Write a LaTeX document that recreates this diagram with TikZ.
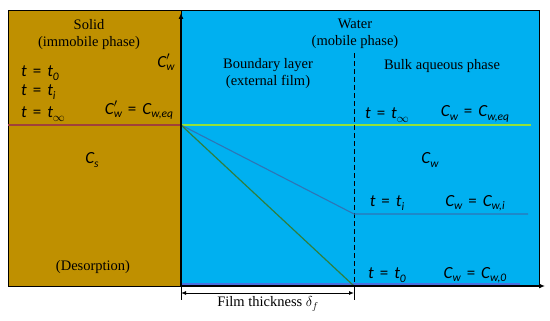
\documentclass[tikz,border=0pt]{standalone}
\usepackage{fontspec}
\setmainfont{Liberation Serif}
\newfontfamily\cfont{Carlito}
\usetikzlibrary{arrows.meta}
\definecolor{solidc}{HTML}{BF9000}
\definecolor{waterc}{HTML}{00B0F0}
\definecolor{eqsolid}{HTML}{A0403A}
\definecolor{eqwater}{HTML}{92E23A}
\definecolor{tiline}{HTML}{2E75B6}
\definecolor{t0line}{HTML}{2F7F3F}
\definecolor{bandc}{HTML}{4A6FE0}
\newcommand\mv[1]{{\cfont\itshape #1}}
\newcommand\sbx[1]{\raisebox{-0.45ex}{\fontsize{11.5}{12}\selectfont\cfont\itshape #1}}
\newcommand\eqs{\hspace{0.35em}{\cfont =}\hspace{0.35em}}
\newcommand\prm{\raisebox{0.1ex}{$^{\prime}$}}
\begin{document}
\begin{tikzpicture}[x=1pt,y=-1pt,
  font=\fontsize{14.5}{17}\selectfont,
  lbl/.style={inner sep=0pt, text=black},
  ml/.style={inner sep=0pt, text=black, font=\fontsize{17}{19}\selectfont},
  phase/.style={draw=black, line width=1.3pt, inner sep=0pt, anchor=north west},
  axis/.style={draw=black, line width=1.1pt, -{Latex[length=6pt,width=5pt]}}]
\useasboundingbox (0,0) rectangle (550,321);
\fill[white] (0,0) rectangle (550,321);
% phases
\node[phase, fill=solidc, minimum width=173pt, minimum height=276pt] (solid) at (8,10) {};
\node[phase, fill=waterc, minimum width=358pt, minimum height=276pt] (water) at (181,10) {};
% coordinates
\coordinate (O) at (181,286);
\coordinate (top) at (181,13);
\coordinate (xend) at (545,286);
\coordinate (P) at (181,125);
\coordinate (Le) at (8,125);
\coordinate (Ee) at (531,125);
\coordinate (Dtop) at (354,53);
\coordinate (Di) at (354,214);
\coordinate (Ie) at (528,214);
\coordinate (D0) at (354,286);
\coordinate (B0) at (181,284);
\coordinate (B1) at (520,284);
% equilibrium line
\draw[eqsolid, line width=1.3pt] (Le) -- (P);
\draw[eqwater, line width=1.3pt] (P) -- (Ee);
% t0 level band
\draw[bandc, line width=2.5pt] (B0) -- (B1);
% dashed boundary
\draw[black, line width=1pt, dash pattern=on 5pt off 3pt] (Dtop) -- (D0);
% profiles
\draw[tiline, line width=1.1pt] (P) -- (Di) -- (Ie);
\draw[t0line, line width=1.2pt] (P) -- (D0);
% axes
\draw[axis] (O) -- (top);
\draw[axis] (O) -- (xend);
% film thickness
\coordinate (f0) at (181,300);
\coordinate (f1) at (354,300);
\coordinate (a0) at (181,293);
\coordinate (a1) at (354,293);
\draw[black, line width=0.8pt] (O) -- (f0);
\draw[black, line width=0.8pt] (D0) -- (f1);
\draw[black, line width=0.9pt, {Latex[length=5pt,width=4pt]}-{Latex[length=5pt,width=4pt]}] (a0) -- (a1);
\node[lbl] (film) at (268,304) {Film thickness $\delta_f$};
% solid texts
\node[lbl] (s1) at (89,25) {Solid};
\node[lbl] (s2) at (89,43) {(immobile phase)};
\node[ml, anchor=west] (s3) at (21,73) {\mv{t}\eqs\mv{t}\sbx{0}};
\node[ml, anchor=west] (s4) at (21,92) {\mv{t}\eqs\mv{t}\sbx{i}};
\node[ml, anchor=west] (s5) at (21,114) {\mv{t}\eqs\mv{t}\sbx{$\infty$}};
\node[ml] (s6) at (166,62) {\mv{C}\rlap{\prm}\sbx{w}};
\node[ml] (s7) at (139,110) {\mv{C}\rlap{\prm}\sbx{w}\eqs\mv{C}\sbx{w,eq}};
\node[ml] (s8) at (92,160) {\mv{C}\sbx{s}};
\node[lbl] (s9) at (93,267) {(Desorption)};
% water texts
\node[lbl] (w1) at (355,24) {Water};
\node[lbl] (w2) at (355,42) {(mobile phase)};
\node[lbl] (w3) at (268,65) {Boundary layer};
\node[lbl] (w4) at (268,82) {(external film)};
\node[lbl] (w5) at (442,66) {Bulk aqueous phase};
\node[ml] (w6) at (387,115) {\mv{t}\eqs\mv{t}\sbx{$\infty$}};
\node[ml] (w7) at (475,114) {\mv{C}\sbx{w}\eqs\mv{C}\sbx{w,eq}};
\node[ml] (w8) at (430,160) {\mv{C}\sbx{w}};
\node[ml] (w9) at (387,203) {\mv{t}\eqs\mv{t}\sbx{i}};
\node[ml] (w10) at (475,203) {\mv{C}\sbx{w}\eqs\mv{C}\sbx{w,i}};
\node[ml] (w11) at (387,275) {\mv{t}\eqs\mv{t}\sbx{0}};
\node[ml] (w12) at (475,275) {\mv{C}\sbx{w}\eqs\mv{C}\sbx{w,0}};
\end{tikzpicture}
\end{document}
